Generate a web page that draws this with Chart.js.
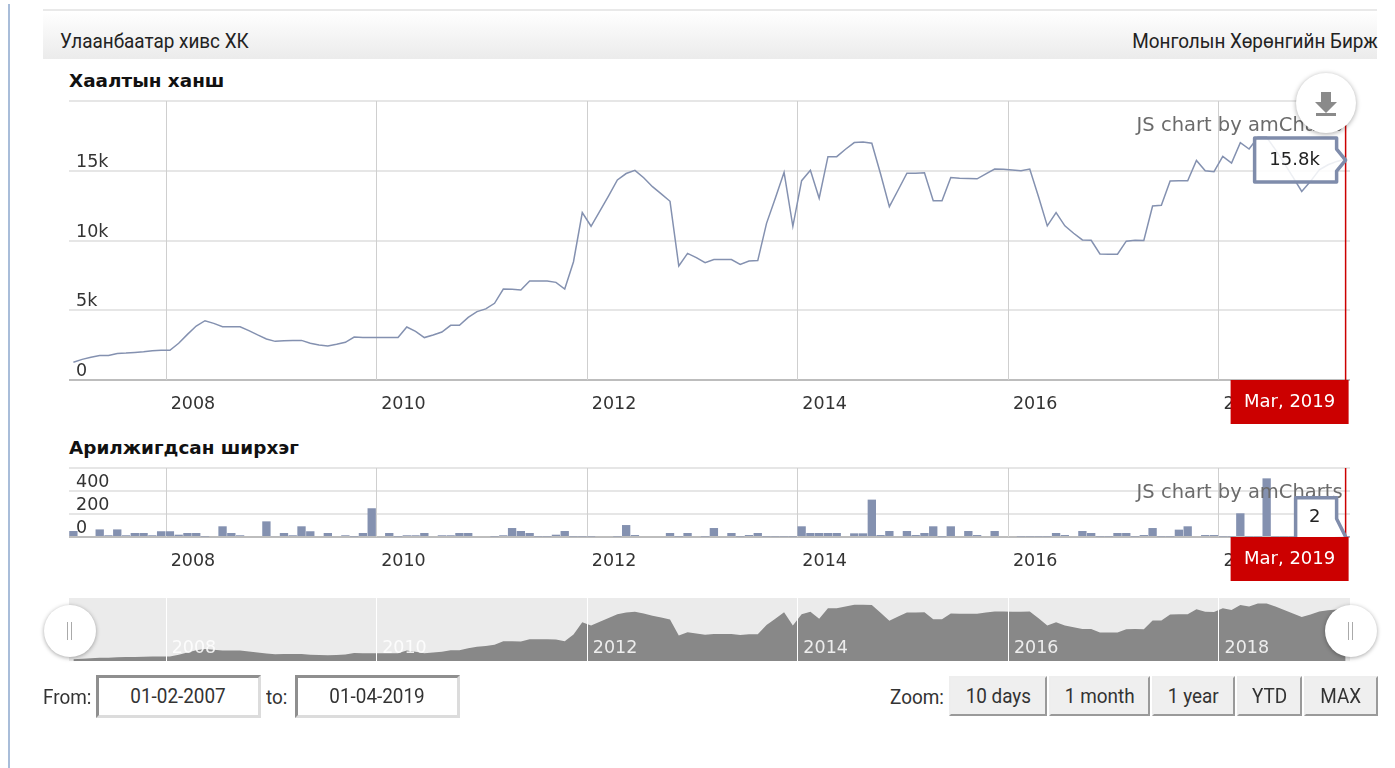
<!DOCTYPE html>
<html lang="mn">
<head>
<meta charset="utf-8">
<title>Улаанбаатар хивс ХК</title>
<script src="https://cdn.jsdelivr.net/npm/chart.js@4/dist/chart.umd.min.js"></script>
<style>
html,body{margin:0;padding:0;background:#fff;}
body{position:relative;width:1395px;height:768px;overflow:hidden;font-family:Roboto,sans-serif;color:#333;}
.abs{position:absolute;white-space:nowrap;}
canvas{position:absolute;display:block;}
#rule{left:8px;top:4px;width:2px;height:764px;background:#a9bdd9;}
#head{left:43px;top:9px;width:1334px;height:50px;border-top:2px solid #e9e9e9;box-sizing:border-box;background:linear-gradient(#fff,#ebebeb);}
.c{display:inline-block;font-size:21px;transform:scaleX(.9);transform-origin:center;}
.hdr{font:21px Roboto,sans-serif;color:#222;line-height:22px;transform:scaleX(.9);}
.ttl{font:bold 18.4px "DejaVu Sans",sans-serif;color:#111;left:69px;line-height:20px;}
.lbl{font:21px Roboto,sans-serif;color:#333;line-height:24px;top:685px;transform:scaleX(.9);transform-origin:left;}
.inp{top:675px;height:43px;box-sizing:border-box;border:3px solid;border-color:#8f8f8f #dcdcdc #dcdcdc #8f8f8f;background:#fff;text-align:center;font:19px Roboto,sans-serif;color:#333;line-height:37px;}
.btn{top:676px;height:40px;box-sizing:border-box;border:2px solid;border-color:#eee #9a9a9a #9a9a9a #eee;background:#efefef;text-align:center;font:19px Roboto,sans-serif;color:#333;line-height:36px;}
.handle{width:52px;height:52px;border-radius:50%;background:#fff;box-shadow:0 1px 4px rgba(0,0,0,.35);top:605px;}
.handle i{position:absolute;top:17px;width:1px;height:18px;background:#aaa;}
#dl{left:1296px;top:73px;width:60px;height:60px;border-radius:50%;background:#fff;box-shadow:0 1px 5px rgba(0,0,0,.35);}
</style>
</head>
<body>
<div class="abs" id="rule"></div>
<div class="abs" id="head"></div>
<div class="abs hdr" style="left:60px;top:30px;transform-origin:left">Улаанбаатар хивс ХК</div>
<div class="abs hdr" style="right:17px;top:30px;transform-origin:right">Монголын Хөрөнгийн Бирж</div>
<div class="abs ttl" style="top:71px">Хаалтын ханш</div>
<div class="abs ttl" style="top:438px">Арилжигдсан ширхэг</div>

<canvas id="priceChart" width="1281" height="326" style="left:69px;top:99px"></canvas>
<canvas id="volumeChart" width="1281" height="116" style="left:69px;top:466px"></canvas>
<canvas id="navChart" width="1281" height="63" style="left:69px;top:598px;background:#ebebeb"></canvas>

<div class="abs handle" style="left:44px"><i style="left:23px"></i><i style="left:27px"></i></div>
<div class="abs handle" style="left:1325px"><i style="left:23px"></i><i style="left:27px"></i></div>
<div class="abs" id="dl"><svg width="60" height="60" viewBox="0 0 60 60"><path d="M25 19h10v10h6L30 40 19 29h6z" fill="#8a8a8a"/><rect x="20" y="40" width="20" height="3" fill="#8a8a8a"/></svg></div>

<div class="abs lbl" style="left:43px">From:</div>
<div class="abs inp" style="left:96px;width:165px"><span class="c">01-02-2007</span></div>
<div class="abs lbl" style="left:266px">to:</div>
<div class="abs inp" style="left:295px;width:165px"><span class="c">01-04-2019</span></div>
<div class="abs lbl" style="left:890px">Zoom:</div>
<div class="abs btn" style="left:949px;width:98px"><span class="c">10 days</span></div>
<div class="abs btn" style="left:1049px;width:101px"><span class="c">1 month</span></div>
<div class="abs btn" style="left:1152px;width:83px"><span class="c">1 year</span></div>
<div class="abs btn" style="left:1237px;width:65px"><span class="c">YTD</span></div>
<div class="abs btn" style="left:1304px;width:74px"><span class="c">MAX</span></div>

<script>
const firstYear = 2007, firstMonth = 2;
const yearTicks = ['2008','2010','2012','2014','2016','2018'];

const closePrices = [
1270,1480,1630,1750,1750,1900,1930,1980,2030,2100,2130,2130,
2630,3270,3870,4250,4060,3820,3820,3820,3540,3230,2940,2770,
2820,2840,2840,2630,2510,2440,2560,2700,3080,3040,3040,3040,
3040,3040,3800,3490,3040,3230,3440,3920,3920,4490,4900,5100,
5500,6520,6500,6450,7100,7100,7100,7000,6520,8480,12000,11020,
12110,13200,14340,14800,15030,14500,13860,13340,12810,8170,9080,8770,
8410,8630,8630,8630,8290,8530,8560,11230,13030,14890,11020,14290,
15030,13030,16010,16010,16540,17020,17060,16970,14770,12430,13620,14820,
14820,14850,12850,12850,14520,14470,14450,14420,14780,15120,15100,15050,
15000,15120,13140,11050,12000,11050,10520,10040,10020,9040,9020,9020,
9950,10020,10000,12470,12520,14260,14280,14280,15740,15000,14930,16030,
15550,17010,16560,17400,17400,16510,15550,14550,13520,14240,15070,15430,
15670,15840];

const tradedVolume = [
52,0,0,66,15,66,15,35,35,15,50,50,
20,35,35,5,0,93,35,15,0,0,136,8,
35,15,93,50,0,35,0,15,5,35,250,0,
35,5,15,15,35,0,15,15,35,35,0,0,
5,15,78,52,35,5,5,20,52,5,5,5,
0,0,5,104,17,0,0,0,35,5,35,0,
5,78,0,35,5,17,35,5,5,5,5,93,
35,35,35,35,0,32,32,325,17,52,0,52,
17,35,93,5,93,0,52,17,0,52,0,0,
5,5,5,5,35,17,0,52,35,5,5,35,
35,5,17,78,5,5,64,93,0,17,17,5,
5,206,5,5,510,5,5,5,5,5,5,5,
5,2];

const priceTicks = [0,5000,10000,15000,20000];
const priceTickLabels = ['0','5k','10k','15k',''];
const volumeTicks = [0,200,400,600];
const volumeTickLabels = ['0','200','400',''];
const cursorLabel = 'Mar, 2019';
const priceBalloon = '15.8k';
const volumeBalloon = '2';
const watermark = 'JS chart by amCharts';

const categories = [];
for (let i = 0; i < closePrices.length; i++) {
  const m = firstMonth - 1 + i;
  categories.push((firstYear + Math.floor(m / 12)) + '-' + String(m % 12 + 1).padStart(2, '0'));
}
const yearOf = i => {
  const c = categories[i];
  if (!c || !c.endsWith('-01')) return null;
  const y = c.slice(0, 4);
  return yearTicks.includes(y) ? y : null;
};

const AXIS_FONT = {family: '"DejaVu Sans", sans-serif', size: 17.5};
const TEXT = '#333';
const MARK = '#8491b0';
const noPad = s => { s.paddingTop = s.paddingBottom = s.paddingLeft = s.paddingRight = 0; };

/* vertical year lines sit on the left edge of each January band of the x scale */
function yearLines(chart, color) {
  const {ctx, chartArea: a, scales: {x}} = chart;
  const band = x.getPixelForValue(1) - x.getPixelForValue(0);
  ctx.save();
  ctx.strokeStyle = color;
  ctx.lineWidth = 1;
  categories.forEach((c, i) => {
    if (!yearOf(i)) return;
    const px = Math.round(x.getPixelForValue(i) - band / 2) + 0.5;
    ctx.beginPath(); ctx.moveTo(px, a.top); ctx.lineTo(px, a.bottom); ctx.stroke();
  });
  ctx.restore();
}
const grayYearLines = {id: 'grayYearLines', beforeDatasetsDraw: ch => yearLines(ch, '#cfcfcf')};
const whiteYearLines = {id: 'whiteYearLines', afterDatasetsDraw: ch => yearLines(ch, '#ffffff')};

function xAxis(extra) {
  return Object.assign({
    type: 'category', offset: true,
    grid: {display: false, drawTicks: false},
    border: {display: true, color: '#bdbdbd', width: 2},
    ticks: {autoSkip: false, maxRotation: 0, minRotation: 0, font: AXIS_FONT, color: TEXT, padding: 14, labelOffset: 23,
            callback: (v, i) => yearOf(i)},
    afterFit: s => { s.height = 45; noPad(s); }
  }, extra || {});
}
function yAxis(ticks, labels) {
  return {
    type: 'linear', min: ticks[0], max: ticks[ticks.length - 1],
    afterFit: s => { s.width = 0; noPad(s); },
    afterBuildTicks: s => { s.ticks = ticks.map(v => ({value: v})); },
    grid: {drawTicks: false, color: '#e6e6e6', lineWidth: 2},
    border: {display: false},
    ticks: {autoSkip: false, mirror: true, padding: 7, labelOffset: -8.5, font: AXIS_FONT, color: TEXT,
            callback: v => labels[ticks.indexOf(v)]}
  };
}

const cursorPlugin = {
  id: 'cursor',
  afterDatasetsDraw(chart, args, o) {
    const {ctx, chartArea: a, scales} = chart;
    const last = categories.length - 1;
    const x = scales.x.getPixelForValue(last);
    const v = chart.data.datasets[0].data[last];
    const y = scales.y.getPixelForValue(v);
    ctx.save();
    // watermark
    ctx.font = '19.5px "DejaVu Sans", sans-serif';
    ctx.fillStyle = '#6b6b6b';
    ctx.textAlign = 'right';
    ctx.textBaseline = 'middle';
    ctx.fillText(watermark, x - 3, a.top + o.markOffset);
    // cursor line
    ctx.strokeStyle = '#cc0000';
    ctx.lineWidth = 1.5;
    ctx.beginPath(); ctx.moveTo(x, a.top); ctx.lineTo(x, a.bottom); ctx.stroke();
    // balloon
    ctx.beginPath();
    o.shape(ctx, x, y, a);
    ctx.fillStyle = o.fill;
    ctx.fill();
    ctx.strokeStyle = '#7f8cab';
    ctx.lineWidth = 3.5;
    ctx.lineJoin = 'round';
    ctx.stroke();
    ctx.fillStyle = '#222';
    ctx.textAlign = 'center';
    ctx.font = '18px "DejaVu Sans", sans-serif';
    ctx.fillText(o.text, x + o.textDx, o.textY(y));
    // category box
    ctx.fillStyle = '#cc0000';
    ctx.fillRect(x - 115, a.bottom, 118, 44);
    ctx.fillStyle = '#fff';
    ctx.textAlign = 'center';
    ctx.font = '18px "DejaVu Sans", sans-serif';
    ctx.fillText(cursorLabel, x - 56, a.bottom + 22);
    ctx.restore();
  }
};

new Chart(document.getElementById('priceChart'), {
  type: 'line',
  plugins: [grayYearLines, cursorPlugin],
  data: {labels: categories, datasets: [{data: closePrices, borderColor: MARK, borderWidth: 1.5, pointRadius: 0, tension: 0, fill: false}]},
  options: {
    responsive: false, animation: false, devicePixelRatio: 1,
    layout: {autoPadding: false, padding: {top: 2, left: 0, right: 0, bottom: 0}},
    plugins: {legend: {display: false}, tooltip: {enabled: false},
      cursor: {
        markOffset: 25, text: priceBalloon, fill: 'rgba(255,255,255,0.85)', textDx: -51,
        textY: y => y + 1,
        shape: (c, x, y) => {
          y += 1;
          c.moveTo(x - 91, y - 22); c.lineTo(x - 9, y - 22); c.lineTo(x - 9, y - 11);
          c.lineTo(x, y); c.lineTo(x - 9, y + 11); c.lineTo(x - 9, y + 22); c.lineTo(x - 91, y + 22); c.closePath();
        }
      }},
    scales: {x: xAxis(), y: yAxis(priceTicks, priceTickLabels)}
  }
});

new Chart(document.getElementById('volumeChart'), {
  type: 'bar',
  plugins: [grayYearLines, cursorPlugin],
  data: {labels: categories, datasets: [{data: tradedVolume, backgroundColor: MARK, borderWidth: 0, barPercentage: 0.95, categoryPercentage: 1}]},
  options: {
    responsive: false, animation: false, devicePixelRatio: 1,
    layout: {autoPadding: false, padding: {top: 2, left: 0, right: 0, bottom: 0}},
    plugins: {legend: {display: false}, tooltip: {enabled: false},
      cursor: {
        markOffset: 25, text: volumeBalloon, fill: '#fff', textDx: -31,
        textY: y => y - 19,
        shape: (c, x, y) => {
          c.moveTo(x - 50, y + 1); c.lineTo(x - 50, y - 39); c.lineTo(x - 9, y - 39); c.lineTo(x - 9, y - 18); c.lineTo(x, y);
        }
      }},
    scales: {x: xAxis(), y: yAxis(volumeTicks, volumeTickLabels)}
  }
});

new Chart(document.getElementById('navChart'), {
  type: 'line',
  plugins: [whiteYearLines],
  data: {labels: categories, datasets: [{data: closePrices, borderWidth: 0, borderColor: 'transparent', backgroundColor: '#888', pointRadius: 0, tension: 0, fill: 'origin'}]},
  options: {
    responsive: false, animation: false, devicePixelRatio: 1,
    layout: {autoPadding: false, padding: 0},
    plugins: {legend: {display: false}, tooltip: {enabled: false}},
    scales: {
      x: xAxis({
        border: {display: false},
        ticks: {z: 1, mirror: true, autoSkip: false, maxRotation: 0, minRotation: 0, font: AXIS_FONT, color: 'rgba(255,255,255,0.85)', padding: 2, labelOffset: 24,
                callback: (v, i) => yearOf(i)},
        afterFit: s => { s.height = 0; noPad(s); }
      }),
      y: {display: false, min: 800, max: 19000}
    }
  }
});
</script>
</body>
</html>
